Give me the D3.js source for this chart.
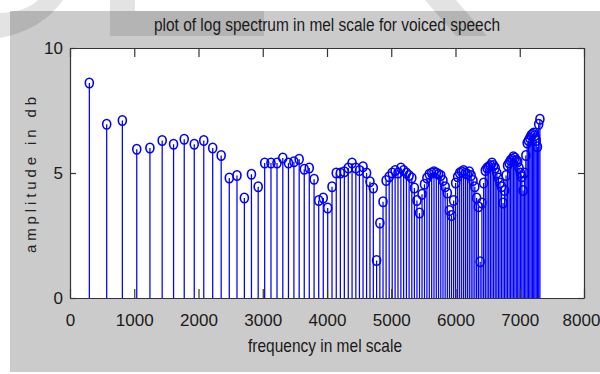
<!DOCTYPE html>
<html><head><meta charset="utf-8">
<script src="https://cdn.jsdelivr.net/npm/d3@7"></script>
<style>body{margin:0;background:#fff}svg{display:block}</style>
</head><body><svg id="c" width="600" height="374"></svg>
<script>
// mel-scale position of each spectral bin
const melFrequencies = [
 301,571,815,1039,1244,1435,1612,1778,1934,2082,
 2221,2353,2479,2599,2714,2824,2929,3030,3128,3222,
 3312,3400,3485,3567,3646,3724,3799,3871,3942,4011,
 4078,4144,4208,4270,4331,4390,4449,4505,4561,4616,
 4669,4721,4772,4823,4872,4920,4968,5015,5060,5105,
 5150,5193,5236,5278,5320,5360,5400,5440,5479,5517,
 5555,5592,5629,5665,5701,5736,5771,5805,5839,5873,
 5906,5938,5971,6002,6034,6065,6096,6126,6156,6185,
 6215,6244,6272,6301,6329,6356,6384,6411,6438,6464,
 6491,6517,6543,6568,6593,6618,6643,6668,6692,6716,
 6740,6764,6787,6810,6834,6856,6879,6901,6924,6946,
 6968,6989,7011,7032,7053,7074,7095,7116,7136,7157,
 7177,7197,7217,7236,7256,7275,7295,7314
];
// log amplitude (db) of each bin
const amplitudes = [
 8.6,6.95,7.1,5.95,6.0,6.3,6.15,6.35,6.15,6.3,
 6.0,5.7,4.8,4.9,4.0,4.95,4.45,5.4,5.4,5.4,
 5.6,5.4,5.45,5.55,5.15,5.2,4.75,3.9,4.0,3.6,
 4.45,5.0,5.0,5.05,5.2,5.4,5.2,5.1,5.25,5.0,
 4.65,4.4,1.5,3.0,3.85,4.7,4.85,5.0,5.1,5.0,
 5.2,5.1,5.0,4.9,4.8,4.4,3.9,3.4,4.15,4.55,
 4.8,4.95,5.0,5.05,5.0,4.95,4.9,4.7,4.45,4.2,
 3.5,3.3,3.9,4.6,4.85,5.0,5.05,5.1,5.0,4.95,
 5.05,4.9,4.7,4.45,4.0,3.65,1.45,3.8,4.6,5.1,
 5.2,5.25,5.3,5.4,5.3,5.2,5.0,4.8,4.6,4.45,
 3.8,4.3,4.9,5.3,5.4,5.5,5.55,5.65,5.6,5.5,
 5.45,5.2,5.0,4.85,4.3,5.0,5.7,6.2,6.3,6.4,
 6.5,6.55,6.6,6.5,6.3,6.05,6.95,7.15
];
const xTickValues = [0,1000,2000,3000,4000,5000,6000,7000,8000];
const yTickValues = [0,5,10];
const titleText = "plot of log spectrum in mel scale for voiced speech";
const xLabelText = "frequency in mel scale";
const yLabelText = "amplitude in db";

const W = 600, H = 374;
const plot = {left:70, top:48, right:584, bottom:298};
const FONT = "'Liberation Sans Narrow','Arial Narrow','Liberation Sans',Arial,sans-serif";
const TXT = "#1a1a1a", AX = "#353535", BLUE = "#0000ff";

const svg = d3.select("#c");
const x = d3.scaleLinear().domain([0, 8000]).range([plot.left, plot.right]);
const y = d3.scaleLinear().domain([0, 10]).range([plot.bottom, plot.top]);

// figure background
svg.append("rect").attr("width", W).attr("height", H).attr("fill", "#fff");
svg.append("rect").attr("x", 10).attr("y", 11).attr("width", 590).attr("height", 361).attr("fill", "#cbcbcb");

// faint watermark shapes
const wm = svg.append("g").attr("fill", "#000").attr("fill-opacity", 0.11);
wm.append("path").attr("d", "M0,38 Q42,30 63,0 L38,0 Q26,12 0,13 Z");
wm.append("rect").attr("x", 110).attr("y", 0).attr("width", 25).attr("height", 11);
wm.append("rect").attr("x", 110).attr("y", 11).attr("width", 154).attr("height", 25);
wm.append("path").attr("d", "M425,0 L456,0 L487,36 L456,36 Z");

// axes background
svg.append("rect").attr("x", plot.left).attr("y", plot.top)
  .attr("width", plot.right - plot.left).attr("height", plot.bottom - plot.top).attr("fill", "#fff");

// stems
const data = melFrequencies.map((m, i) => ({m, a: amplitudes[i]}));
const g = svg.append("g");
g.selectAll("line.stem").data(data).join("line").attr("class", "stem")
  .attr("x1", d => x(d.m)).attr("x2", d => x(d.m))
  .attr("y1", y(0)).attr("y2", d => y(d.a))
  .attr("stroke", BLUE).attr("stroke-width", 1.25);
g.selectAll("ellipse").data(data).join("ellipse")
  .attr("cx", d => x(d.m)).attr("cy", d => y(d.a))
  .attr("rx", 4).attr("ry", 4.8)
  .attr("fill", "none").attr("stroke", BLUE).attr("stroke-width", 1.6);

// axes
function styleAxis(sel) {
  sel.selectAll("path.domain").attr("stroke", AX).attr("stroke-width", 1.2);
  sel.selectAll(".tick line").attr("stroke", AX).attr("stroke-width", 1.2);
  sel.selectAll("text").attr("fill", TXT).style("font-family", FONT).style("font-size", "17px");
}
const xAxisG = svg.append("g").attr("transform", `translate(0,${plot.bottom})`)
  .call(d3.axisBottom(x).tickValues(xTickValues).tickSize(-9).tickSizeOuter(0).tickPadding(16).tickFormat(d3.format("d")))
  .call(styleAxis);
// keep the last label inside the page edge
xAxisG.selectAll(".tick text").filter(d => d === 8000).attr("dx", -3);
svg.append("g").attr("transform", `translate(0,${plot.top})`)
  .call(d3.axisTop(x).tickValues(xTickValues).tickSize(-9).tickSizeOuter(0).tickFormat(""))
  .call(styleAxis);
svg.append("g").attr("transform", `translate(${plot.left},0)`)
  .call(d3.axisLeft(y).tickValues(yTickValues).tickSize(-6).tickSizeOuter(0).tickPadding(7).tickFormat(d3.format("d")))
  .call(styleAxis);
svg.append("g").attr("transform", `translate(${plot.right},0)`)
  .call(d3.axisRight(y).tickValues(yTickValues).tickSize(-6).tickSizeOuter(0).tickFormat(""))
  .call(styleAxis);
svg.selectAll(".tick text").filter(function(){ return this.textContent === ""; }).remove();

// title and labels
svg.append("text").attr("x", 327).attr("y", 31).attr("text-anchor", "middle")
  .attr("textLength", 346).attr("lengthAdjust", "spacingAndGlyphs")
  .style("font-family", FONT).style("font-size", "18px").attr("fill", TXT).text(titleText);
svg.append("text").attr("x", 325).attr("y", 352).attr("text-anchor", "middle")
  .attr("textLength", 154).attr("lengthAdjust", "spacingAndGlyphs")
  .style("font-family", FONT).style("font-size", "18.5px").attr("fill", TXT).text(xLabelText);
svg.append("text").attr("transform", "translate(36,175) rotate(-90)").attr("text-anchor", "middle")
  .attr("textLength", 156).attr("lengthAdjust", "spacing")
  .style("font-family", "'Liberation Sans',Arial,sans-serif").style("font-size", "15px").attr("fill", "#222").text(yLabelText);
</script>
</body></html>
